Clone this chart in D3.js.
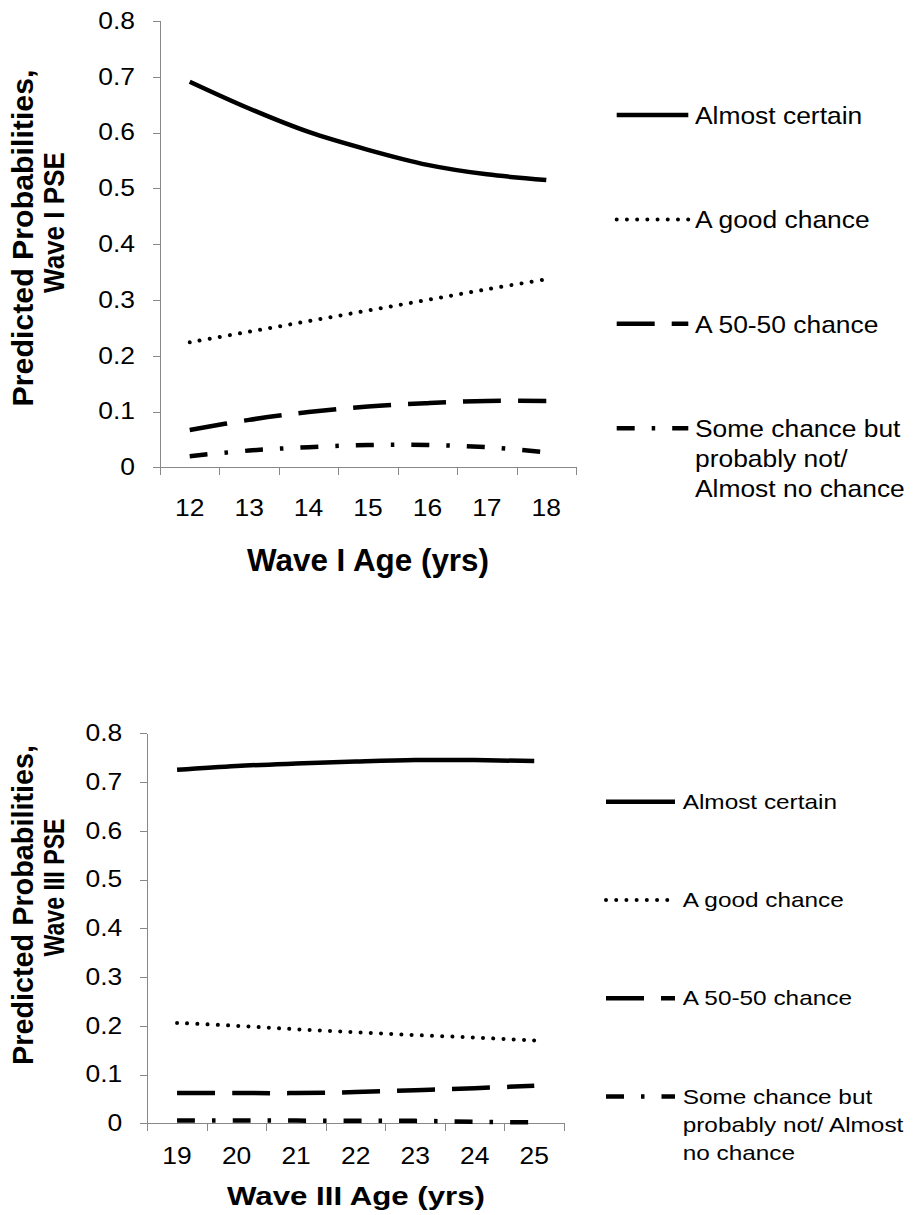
<!DOCTYPE html>
<html lang="en">
<head>
<meta charset="utf-8">
<script src="https://cdnjs.cloudflare.com/ajax/libs/d3/7.8.5/d3.min.js"></script>
<style>
  body { margin: 0; background: #fff; }
  svg { display: block; font-family: "Liberation Sans", Arial, sans-serif; }
</style>
</head>
<body>
<div id="chart"></div>
<script>
// ---- data ----
const agesWave1 = [12, 13, 14, 15, 16, 17, 18];
const agesWave3 = [19, 20, 21, 22, 23, 24, 25];
const yTickValues = [0, 0.1, 0.2, 0.3, 0.4, 0.5, 0.6, 0.7, 0.8];

const certainW1 = [0.691, 0.643, 0.601, 0.569, 0.542, 0.525, 0.515];
const goodW1    = [0.224, 0.243, 0.262, 0.281, 0.300, 0.319, 0.337];
const fiftyW1   = [0.067, 0.085, 0.099, 0.109, 0.115, 0.119, 0.119];
const someW1    = [0.020, 0.030, 0.036, 0.040, 0.040, 0.036, 0.027];

const certainW3 = [0.725, 0.733, 0.738, 0.742, 0.745, 0.745, 0.743];
const goodW3    = [0.206, 0.200, 0.193, 0.187, 0.181, 0.176, 0.170];
const fiftyW3   = [0.062, 0.062, 0.062, 0.064, 0.068, 0.072, 0.077];
const someW3    = [0.0055, 0.0055, 0.0055, 0.005, 0.005, 0.003, 0.002];

const legendW1 = [["Almost certain"], ["A good chance"], ["A 50-50 chance"],
                  ["Some chance but", "probably not/", "Almost no chance"]];
const legendW3 = [["Almost certain"], ["A good chance"], ["A 50-50 chance"],
                  ["Some chance but", "probably not/ Almost", "no chance"]];

const yTitleW1 = ["Predicted Probabilities,", "Wave I PSE"];
const yTitleW3 = ["Predicted Probabilities,", "Wave III PSE"];
const xTitleW1 = "Wave I Age (yrs)";
const xTitleW3 = "Wave III Age (yrs)";

// line styles, same order as the series
const lineStyles = [
  { dash: null,             width: 4.5, cap: "butt" },
  { dash: "0.01,10.2",      width: 4,   cap: "round" },
  { dash: "38,17",          width: 4.5, cap: "butt" },
  { dash: "18,17,3.5,17",   width: 4.5, cap: "butt" }
];

const svg = d3.select("#chart").append("svg")
  .attr("width", 913).attr("height", 1215);

function drawPanel(p) {
  const g = svg.append("g");

  const y = d3.scaleLinear().domain([0, 0.8]).range([p.yBottom, p.yTop]);
  const xBand = d3.scaleBand().domain(p.ages).range([p.xLeft, p.xRight]);
  const xEdge = d3.scaleLinear().domain([0, p.ages.length]).range([p.xLeft, p.xRight]);

  // y axis
  const yAxis = g.append("g")
    .attr("transform", "translate(" + p.xLeft + ",0)")
    .call(d3.axisLeft(y).tickValues(yTickValues).tickSize(7).tickSizeOuter(0)
      .tickFormat(d => d === 0 ? "0" : d3.format(".1f")(d)));
  yAxis.selectAll("text")
    .attr("x", 0)
    .attr("transform", "translate(-25,0) scale(1.15,1)")
    .style("font-size", "23px").attr("fill", "#000");

  // x axis: tick marks between categories, labels centred
  const xTicks = g.append("g")
    .attr("transform", "translate(0," + p.yBottom + ")")
    .call(d3.axisBottom(xEdge).tickValues(d3.range(p.ages.length + 1))
      .tickSize(8).tickSizeOuter(0).tickFormat(""));
  const xLabels = g.append("g")
    .attr("transform", "translate(0," + p.yBottom + ")")
    .call(d3.axisBottom(xBand).tickSize(0));
  xLabels.select(".domain").remove();
  xLabels.selectAll("text")
    .attr("y", 0).attr("dy", 0)
    .attr("transform", "translate(0," + p.labelDrop + ") scale(1.15,1)")
    .style("font-size", "23px").attr("fill", "#000");

  [yAxis, xTicks].forEach(a => {
    a.selectAll(".domain, line").attr("stroke", "#888").attr("shape-rendering", "crispEdges");
  });

  // series
  const line = d3.line()
    .x((d, i) => xBand(p.ages[i]) + xBand.bandwidth() / 2)
    .y(d => y(d))
    .curve(d3.curveCardinal.tension(0));

  p.series.forEach((vals, i) => {
    const st = lineStyles[i];
    g.append("path")
      .datum(vals)
      .attr("d", line)
      .attr("fill", "none")
      .attr("stroke", "#000")
      .attr("stroke-width", st.width)
      .attr("stroke-linecap", st.cap)
      .attr("stroke-dasharray", st.dash);
  });

  // legend
  p.legend.forEach((lines, i) => {
    const st = lineStyles[i];
    const ly = p.legendY + i * p.legendGap;
    g.append("line")
      .attr("x1", p.legendX0).attr("x2", p.legendX1)
      .attr("y1", ly).attr("y2", ly)
      .attr("stroke", "#000")
      .attr("stroke-width", st.width)
      .attr("stroke-linecap", st.cap)
      .attr("stroke-dasharray", st.dash);
    const t = g.append("text")
      .attr("transform", "translate(" + p.legendTextX + "," + (ly + p.legendBase) + ") scale(" + p.legendSx + ",1)")
      .style("font-size", p.legendFont + "px").attr("fill", "#000");
    lines.forEach((s, k) => {
      t.append("tspan").attr("x", 0).attr("dy", k === 0 ? 0 : p.legendLine).text(s);
    });
  });

  // axis titles
  p.yTitle.forEach((s, k) => {
    g.append("text")
      .attr("transform", "translate(" + p.yTitlePos[k][0] + "," + p.yTitlePos[k][1] + ") rotate(-90)")
      .attr("text-anchor", "middle")
      .attr("textLength", p.yTitleLen[k]).attr("lengthAdjust", "spacingAndGlyphs")
      .style("font-size", "29px").style("font-weight", "bold").attr("fill", "#000")
      .text(s);
  });
  g.append("text")
    .attr("x", p.xTitlePos[0]).attr("y", p.xTitlePos[1])
    .attr("text-anchor", "middle")
    .attr("textLength", p.xTitleLen).attr("lengthAdjust", "spacingAndGlyphs")
    .style("font-size", p.xTitleFont + "px").style("font-weight", "bold").attr("fill", "#000")
    .text(p.xTitle);
}

drawPanel({
  ages: agesWave1, series: [certainW1, goodW1, fiftyW1, someW1],
  xLeft: 160, xRight: 576, yTop: 20.9, yBottom: 467.3, labelDrop: 48.7,
  legend: legendW1, legendX0: 616.7, legendX1: 688.3, legendTextX: 695,
  legendY: 115, legendGap: 104.4, legendBase: 9, legendLine: 30, legendFont: 24, legendSx: 1.1,
  yTitle: yTitleW1, yTitlePos: [[33, 238], [64, 222.5]], yTitleLen: [337, 141],
  xTitle: xTitleW1, xTitlePos: [368, 571], xTitleLen: 242, xTitleFont: 31
});

drawPanel({
  ages: agesWave3, series: [certainW3, goodW3, fiftyW3, someW3],
  xLeft: 147.3, xRight: 564, yTop: 733.3, yBottom: 1123.3, labelDrop: 40.7,
  legend: legendW3, legendX0: 606, legendX1: 675, legendTextX: 682.7,
  legendY: 801.7, legendGap: 98.3, legendBase: 7, legendLine: 28, legendFont: 21, legendSx: 1.16,
  yTitle: yTitleW3, yTitlePos: [[33, 905], [64, 887.5]], yTitleLen: [320, 138],
  xTitle: xTitleW3, xTitlePos: [356, 1205], xTitleLen: 258, xTitleFont: 26
});
</script>
</body>
</html>
